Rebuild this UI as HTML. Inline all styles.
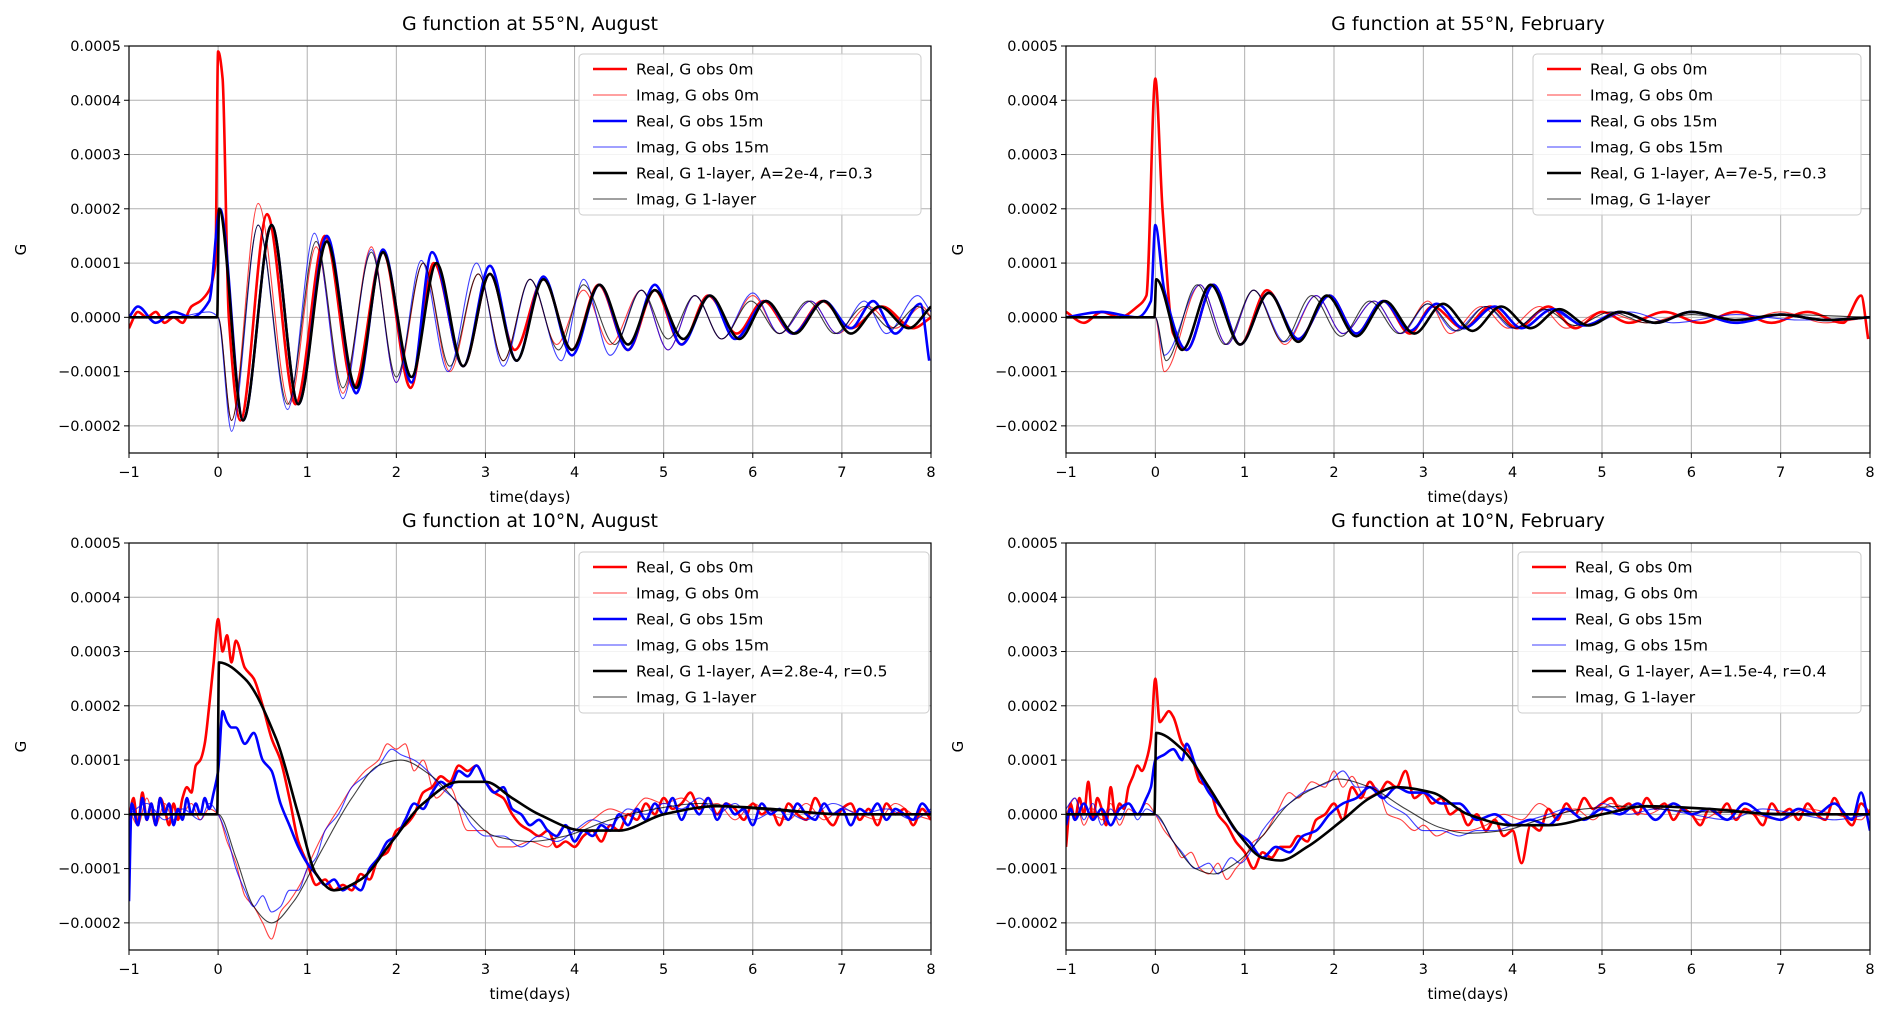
<!DOCTYPE html>
<html><head><meta charset="utf-8"><style>
html,body{margin:0;padding:0;background:#fff;}
svg{display:block;font-family:"DejaVu Sans","Liberation Sans",sans-serif;}
</style></head><body>
<svg id="fig" width="1892" height="1023" viewBox="0 0 1892 1023" xmlns="http://www.w3.org/2000/svg"></svg>
<script>
// ---- data (values in units of 1e-5) ----
const xTicks = [-1,0,1,2,3,4,5,6,7,8];
const yTicks = [-0.0002,-0.0001,0,0.0001,0.0002,0.0003,0.0004,0.0005];
const yTickLabels = ["\u22120.0002","\u22120.0001","0.0000","0.0001","0.0002","0.0003","0.0004","0.0005"];
const seriesLabels = ["Real, G obs 0m","Imag, G obs 0m","Real, G obs 15m","Imag, G obs 15m","Real, G 1-layer","Imag, G 1-layer"];
const panelTitles = ["G function at 55\u00b0N, August","G function at 55\u00b0N, February","G function at 10\u00b0N, August","G function at 10\u00b0N, February"];
const modelParams = ["A=2e-4, r=0.3","A=7e-5, r=0.3","A=2.8e-4, r=0.5","A=1.5e-4, r=0.4"];

// Top-left: 55N August
const tlRe0T=[-1,-0.9,-0.8,-0.7,-0.6,-0.5,-0.4,-0.3,-0.2,-0.1,-0.03,0,0.05,0.12,0.25,0.55,0.87,1.2,1.52,1.85,2.16,2.42,2.75,3.05,3.33,3.65,3.97,4.27,4.6,4.9,5.2,5.5,5.82,6.12,6.45,6.78,7.1,7.45,7.8,8];
const tlRe0V=[-2,1,0,1,-1,0,-1,2,3,5,10,49,44,0,-19,19,-16,15,-13,12,-13,10,-9,8,-6,7,-6,6,-6,5,-5,4,-3,3,-3,3,-2,2,-2,0];
const tlIm0T=[-1,-0.5,0,0.15,0.45,0.8,1.1,1.4,1.72,2.0,2.3,2.6,2.92,3.2,3.5,3.8,4.1,4.4,4.75,5.05,5.35,5.65,6.0,6.3,6.65,6.95,7.3,7.6,7.9,8];
const tlIm0V=[0,0,0,-19,21,-16,13,-14,13,-12,10,-10,8,-8,7,-5,5,-5,5,-6,4,-4,4,-3,3,-3,2,-2,2,0];
const tlRe15T=[-1,-0.9,-0.7,-0.5,-0.3,-0.1,0.02,0.28,0.6,0.9,1.22,1.55,1.85,2.17,2.4,2.75,3.05,3.35,3.65,3.97,4.28,4.6,4.9,5.2,5.52,5.8,6.15,6.45,6.8,7.1,7.35,7.6,7.88,7.98];
const tlRe15V=[0,2,-1,1,0,3,20,-19,17,-16,15,-14,12.5,-12,12,-9,9.5,-8,7.5,-7,6,-6,6,-5,4,-4,3,-3,3,-2,3,-3,2.5,-8];
const tlIm15T=[-1,-0.5,-0.1,0,0.15,0.45,0.78,1.08,1.4,1.72,2.0,2.28,2.58,2.9,3.2,3.5,3.85,4.1,4.4,4.75,5.05,5.35,5.65,6.0,6.3,6.65,6.95,7.25,7.5,7.85,8];
const tlIm15V=[0,0,1,0,-21,17,-17,15.5,-15,12.5,-12,10.5,-10,10,-9,7,-8,7,-7,5,-6,4,-4,4.5,-3,3,-3,3,-3,4,1];
const tlReMT=[-1,-0.01,0.01,0.28,0.6,0.9,1.22,1.55,1.85,2.17,2.45,2.75,3.05,3.35,3.65,3.97,4.28,4.6,4.9,5.22,5.52,5.85,6.15,6.47,6.8,7.1,7.42,7.75,8];
const tlReMV=[0,0,20,-19,17,-16,14,-13,12,-11,10,-9,8,-8,7,-6,6,-5,5,-4,4,-4,3,-3,3,-3,2,-2,2];
const tlImMT=[-1,0,0.15,0.45,0.78,1.1,1.4,1.72,2.0,2.3,2.6,2.92,3.2,3.5,3.82,4.1,4.45,4.75,5.05,5.35,5.65,5.98,6.3,6.62,6.92,7.25,7.55,7.85,8];
const tlImMV=[0,0,-19,17,-16,14,-13,12,-11,10,-9,8,-8,7,-6,6,-5,5,-4,4,-4,3,-3,3,-3,2,-2,2,0];

// Top-right: 55N February
const trRe0T=[-1,-0.8,-0.6,-0.4,-0.2,-0.1,0,0.08,0.2,0.35,0.65,0.95,1.25,1.6,1.95,2.25,2.55,2.85,3.1,3.45,3.75,4.05,4.4,4.7,5.0,5.3,5.7,6.1,6.5,6.9,7.3,7.7,7.9,7.98];
const trRe0V=[1,-1,1,0,2,4,44,20,-3,-6,6,-5,5,-4,4,-3,3,-3,2,-2,2,-2,2,-2,1,-1,1,-1,1,-1,1,-1,4,-4];
const trIm0T=[-1,-0.5,0,0.1,0.5,0.8,1.1,1.45,1.8,2.1,2.45,2.75,3.05,3.3,3.65,3.95,4.3,4.6,5.0,5.5,6.0,6.5,7.0,7.5,8];
const trIm0V=[0,0,0,-10,6,-5,5,-5,4,-3,3,-3,3,-3,2,-2,2,-2,1,-1,1,-1,1,-1,0];
const trRe15T=[-1,-0.6,-0.2,-0.05,0,0.1,0.35,0.65,0.95,1.27,1.6,1.95,2.25,2.55,2.85,3.15,3.45,3.8,4.1,4.45,4.8,5.2,5.6,6.0,6.5,7.0,7.5,8];
const trRe15V=[0,1,0,3,17,5,-6,6,-5,4.5,-4,4,-3,3,-2.5,2.5,-2,2,-2,1.5,-1.5,1,-1,1,-1,0.5,-0.5,0];
const trIm15T=[-1,-0.5,0,0.1,0.5,0.8,1.1,1.45,1.8,2.1,2.45,2.75,3.05,3.35,3.7,4.0,4.4,4.8,5.3,5.8,6.5,7.2,8];
const trIm15V=[0,0,0,-7,6,-5,5,-4.5,4,-3,3,-3,2.5,-2.5,2,-2,1.5,-1.5,1,-1,0.5,-0.5,0];
const trReMT=[-1,-0.01,0.01,0.3,0.62,0.95,1.27,1.6,1.92,2.25,2.57,2.9,3.22,3.55,3.87,4.2,4.52,4.85,5.2,5.6,6.0,6.5,7.0,7.5,8];
const trReMV=[0,0,7,-6,6,-5,4.5,-4.5,4,-3.5,3,-3,2.5,-2.5,2,-2,1.5,-1.5,1,-1,1,-0.5,0.5,-0.5,0];
const trImMT=[-1,0,0.12,0.47,0.78,1.1,1.43,1.75,2.08,2.4,2.73,3.05,3.38,3.7,4.03,4.35,4.7,5.1,5.5,6.0,6.5,7.0,8];
const trImMV=[0,0,-8,6,-5,5,-4.5,4,-3.5,3,-3,2.5,-2.5,2,-2,1.5,-1.5,1,-1,0.5,-0.5,0.5,0];

// Bottom-left: 10N August
const blRe0T=[-1,-0.95,-0.9,-0.85,-0.8,-0.75,-0.7,-0.65,-0.6,-0.55,-0.5,-0.45,-0.4,-0.35,-0.3,-0.25,-0.2,-0.15,-0.1,-0.05,0,0.05,0.1,0.15,0.2,0.3,0.4,0.5,0.6,0.7,0.8,0.9,1.0,1.1,1.2,1.3,1.4,1.5,1.6,1.7,1.8,1.9,2.0,2.1,2.2,2.3,2.4,2.5,2.6,2.7,2.8,2.9,3.0,3.1,3.2,3.3,3.4,3.5,3.6,3.7,3.8,3.9,4.0,4.1,4.2,4.3,4.4,4.5,4.6,4.7,4.8,4.9,5.0,5.1,5.2,5.3,5.4,5.5,5.6,5.7,5.8,5.9,6.0,6.1,6.2,6.3,6.4,6.5,6.6,6.7,6.8,6.9,7.0,7.1,7.2,7.3,7.4,7.5,7.6,7.7,7.8,7.9,8];
const blRe0V=[-1,3,-2,4,-1,2,-2,3,1,-2,2,-1,3,5,4,9,10,13,20,28,36,30,33,28,32,27,25,20,14,10,3,-5,-9,-13,-12,-14,-13,-14,-11,-12,-8,-7,-3,-2,0,4,5,7,6,9,8,9,6,4,3,0,-2,-3,-4,-3,-6,-5,-6,-4,-3,-5,-2,-3,0,-1,2,0,3,1,2,4,1,3,0,2,1,-1,2,0,1,-2,2,0,-1,3,0,-2,1,2,-1,1,-2,2,0,1,-2,1,-1];
const blIm0T=[-1,-0.9,-0.8,-0.7,-0.6,-0.5,-0.4,-0.3,-0.2,-0.1,0,0.1,0.2,0.3,0.4,0.5,0.6,0.7,0.8,0.95,1.05,1.2,1.35,1.5,1.65,1.8,1.9,2.0,2.1,2.2,2.3,2.45,2.6,2.8,3.0,3.15,3.3,3.5,3.7,3.9,4.0,4.2,4.4,4.6,4.8,5.0,5.2,5.4,5.6,5.8,6.0,6.2,6.4,6.6,6.8,7.0,7.2,7.4,7.6,7.8,8];
const blIm0V=[1,-2,3,-2,2,-1,0,2,-1,1,0,-5,-9,-15,-17,-20,-23,-18,-16,-12,-8,-3,1,5,8,10,13,12,13,8,10,3,5,-3,-3,-6,-6,-5,-6,-2,-3,-1,1,0,3,2,3,1,2,-1,2,0,-1,2,-1,1,0,-1,2,0,-1];
const blRe15T=[-1,-0.97,-0.9,-0.85,-0.8,-0.75,-0.7,-0.65,-0.6,-0.55,-0.5,-0.45,-0.4,-0.35,-0.3,-0.25,-0.2,-0.15,-0.1,-0.05,0,0.05,0.1,0.15,0.2,0.3,0.4,0.5,0.6,0.7,0.8,0.9,1.0,1.1,1.2,1.3,1.4,1.5,1.6,1.7,1.8,1.9,2.0,2.1,2.2,2.3,2.4,2.5,2.6,2.7,2.8,2.9,3.0,3.1,3.2,3.3,3.4,3.5,3.6,3.7,3.8,3.9,4.0,4.1,4.2,4.3,4.4,4.5,4.6,4.7,4.8,4.9,5.0,5.1,5.2,5.3,5.4,5.5,5.6,5.7,5.8,5.9,6.0,6.1,6.2,6.3,6.4,6.5,6.6,6.7,6.8,6.9,7.0,7.1,7.2,7.3,7.4,7.5,7.6,7.7,7.8,7.9,8];
const blRe15V=[-16,2,-2,3,-1,2,-2,3,0,2,-2,1,-1,3,0,2,0,3,1,4,8,19,17,16,16,13,15,10,8,2,-2,-6,-9,-11,-13,-12,-14,-13,-14,-10,-8,-5,-4,-1,2,1,4,6,5,8,7,9,6,4,5,1,0,-2,-1,-3,-4,-2,-5,-3,-4,-2,-3,0,-2,1,-1,2,0,3,-1,2,0,3,-1,2,0,1,-2,2,0,1,-1,2,0,-1,2,0,1,-2,1,0,2,-1,1,0,-1,2,0];
const blIm15T=[-1,-0.8,-0.6,-0.4,-0.2,-0.1,0,0.1,0.2,0.3,0.4,0.5,0.6,0.7,0.8,0.9,1.0,1.1,1.2,1.35,1.5,1.65,1.8,1.95,2.05,2.2,2.35,2.5,2.7,2.85,3.0,3.2,3.4,3.6,3.8,4.0,4.2,4.4,4.6,4.8,5.0,5.2,5.4,5.6,5.8,6.0,6.3,6.6,6.9,7.2,7.5,7.8,8];
const blIm15V=[0,2,-1,1,-1,2,0,-4,-10,-14,-17,-15,-18,-17,-14,-14,-10,-8,-3,0,5,7,9,12,11,10,8,5,2,-2,-4,-4,-6,-4,-5,-3,-1,-2,1,0,2,1,3,0,2,-1,1,-1,2,0,1,-1,1];
const blReMT=[-1,-0.01,0.01,0.3,0.65,0.9,1.1,1.3,1.6,1.95,2.3,2.7,3.0,3.3,3.6,4.1,4.5,5.0,5.6,6.2,7.0,8];
const blReMV=[0,0,28,25,14,0,-11,-14,-12,-5,2,6,6,3,0,-3,-3,0,1.5,1,0,0];
const blImMT=[-1,0,0.2,0.4,0.6,0.85,1.15,1.5,1.8,2.05,2.4,2.75,3.1,3.5,3.9,4.4,4.9,5.4,6.0,7.0,8];
const blImMV=[0,0,-8,-17,-20,-16,-7,3,9,10,7,1,-4,-5,-4,-1,1,2,1,0,0];

// Bottom-right: 10N February
const brRe0T=[-1,-0.95,-0.9,-0.85,-0.8,-0.75,-0.7,-0.65,-0.6,-0.55,-0.5,-0.45,-0.4,-0.35,-0.3,-0.25,-0.2,-0.15,-0.1,-0.05,0,0.05,0.1,0.15,0.2,0.3,0.4,0.5,0.6,0.7,0.8,0.9,1.0,1.1,1.2,1.3,1.4,1.5,1.6,1.7,1.8,1.9,2.0,2.1,2.2,2.3,2.4,2.5,2.6,2.7,2.8,2.9,3.0,3.1,3.2,3.3,3.4,3.5,3.6,3.7,3.8,3.9,4.0,4.1,4.2,4.3,4.4,4.5,4.6,4.7,4.8,4.9,5.0,5.1,5.2,5.3,5.4,5.5,5.6,5.7,5.8,5.9,6.0,6.1,6.2,6.3,6.4,6.5,6.6,6.7,6.8,6.9,7.0,7.1,7.2,7.3,7.4,7.5,7.6,7.7,7.8,7.9,8];
const brRe0V=[-6,2,-1,3,0,6,-1,3,1,-2,5,0,2,1,5,7,9,8,10,14,25,17,18,19,18,13,11,6,5,0,-2,-5,-7,-10,-7,-8,-6,-6,-4,-5,-1,0,2,-1,5,3,6,4,6,5,8,3,4,2,3,0,1,-2,0,-3,-1,-4,-3,-9,-2,-3,1,-1,2,0,3,1,2,3,1,2,0,3,1,2,-1,1,0,-2,1,0,2,-1,1,0,-2,2,0,1,-1,2,0,-1,3,0,-2,2,0];
const brIm0T=[-1,-0.9,-0.8,-0.7,-0.6,-0.5,-0.4,-0.3,-0.2,-0.1,0,0.1,0.2,0.3,0.4,0.5,0.6,0.7,0.8,0.9,1.0,1.1,1.2,1.35,1.5,1.6,1.75,1.9,2.0,2.1,2.2,2.35,2.5,2.6,2.75,2.9,3.0,3.15,3.3,3.5,3.7,3.9,4.1,4.3,4.5,4.7,4.9,5.1,5.3,5.5,5.8,6.1,6.4,6.7,7.0,7.3,7.6,7.9,8];
const brIm0V=[0,3,-2,1,-1,2,-2,1,0,2,0,-3,-5,-8,-7,-10,-11,-9,-12,-10,-8,-5,-4,0,4,3,6,5,8,5,7,3,4,0,-1,-3,-2,-4,-3,-3,-2,0,-1,2,0,1,-1,2,1,0,2,-1,1,0,-1,1,0,-1,1];
const brRe15T=[-1,-0.95,-0.9,-0.8,-0.7,-0.6,-0.5,-0.4,-0.3,-0.2,-0.1,-0.05,0,0.1,0.2,0.3,0.35,0.45,0.6,0.75,0.9,1.05,1.2,1.35,1.5,1.65,1.8,1.95,2.1,2.25,2.4,2.55,2.7,2.85,3.0,3.2,3.4,3.6,3.8,4.0,4.2,4.4,4.6,4.8,5.0,5.2,5.4,5.6,5.8,6.0,6.2,6.4,6.6,6.8,7.0,7.2,7.4,7.6,7.8,7.9,8];
const brRe15V=[-2,1,-1,2,-1,1,-2,1,2,0,3,5,10,11,12,10,13,9,4,1,-3,-5,-8,-6,-7,-4,-3,0,2,3,5,3,5,4,4,2,2,-1,0,-2,-1,-2,1,-1,1,0,2,-1,2,0,1,-1,2,0,-1,1,0,2,-1,4,-3];
const brIm15T=[-1,-0.9,-0.8,-0.7,-0.6,-0.5,-0.4,-0.3,-0.2,-0.1,0,0.1,0.2,0.3,0.45,0.6,0.7,0.85,0.95,1.1,1.2,1.35,1.5,1.65,1.8,1.95,2.1,2.25,2.45,2.6,2.8,3.0,3.2,3.4,3.6,3.8,4.0,4.2,4.4,4.6,4.8,5.0,5.3,5.6,6.0,6.4,6.8,7.2,7.6,8];
const brIm15V=[1,3,-1,2,-2,1,-1,2,-1,1,0,-2,-5,-7,-10,-9,-11,-8,-9,-6,-3,0,2,4,5,6,8,5,5,2,0,-3,-3,-4,-3,-3,-2,-1,0,1,-1,2,0,1,0,-1,1,0,-1,0];
const brReMT=[-1,-0.01,0.01,0.3,0.6,0.95,1.2,1.4,1.7,2.1,2.4,2.7,3.1,3.5,4.0,4.4,5.0,5.5,6.2,7.0,8];
const brReMV=[0,0,15,12,5,-4,-8,-8.5,-6,-1,3,5,4,0,-2,-2,0,1.5,1,0,0];
const brImMT=[-1,0,0.2,0.45,0.65,0.9,1.2,1.5,1.8,2.05,2.4,2.8,3.2,3.5,3.9,4.3,4.8,5.3,6.0,8];
const brImMV=[0,0,-5,-10,-11,-9,-4,2,5,6.5,5,1,-2.5,-3.5,-3,-1,1,1.5,0.5,0];

// ---- rendering ----
const svg=document.getElementById('fig');
const NS='http://www.w3.org/2000/svg';
function mk(tag,attrs,parent){const e=document.createElementNS(NS,tag);for(const k in attrs)e.setAttribute(k,attrs[k]);(parent||svg).appendChild(e);return e;}

const panels=[
 {x0:129,x1:931,y0:46,y1:453,leg:{x:579,y:54,w:342},key:'tl',
  s:[[tlRe0T,tlRe0V],[tlIm0T,tlIm0V],[tlRe15T,tlRe15V],[tlIm15T,tlIm15V],[tlReMT,tlReMV],[tlImMT,tlImMV]]},
 {x0:1066,x1:1870,y0:46,y1:453,leg:{x:1533,y:54,w:328},key:'tr',
  s:[[trRe0T,trRe0V],[trIm0T,trIm0V],[trRe15T,trRe15V],[trIm15T,trIm15V],[trReMT,trReMV],[trImMT,trImMV]]},
 {x0:129,x1:931,y0:543,y1:950,leg:{x:579,y:552,w:350},key:'bl',
  s:[[blRe0T,blRe0V],[blIm0T,blIm0V],[blRe15T,blRe15V],[blIm15T,blIm15V],[blReMT,blReMV],[blImMT,blImMV]]},
 {x0:1066,x1:1870,y0:543,y1:950,leg:{x:1518,y:552,w:343},key:'br',
  s:[[brRe0T,brRe0V],[brIm0T,brIm0V],[brRe15T,brRe15V],[brIm15T,brIm15V],[brReMT,brReMV],[brImMT,brImMV]]}
];
const styles=[
 {c:'#ff0000',w:2.6,o:1},{c:'#ff0000',w:1.1,o:0.75},
 {c:'#0000ff',w:2.6,o:1},{c:'#0000ff',w:1.1,o:0.75},
 {c:'#000000',w:2.6,o:1},{c:'#000000',w:1.1,o:0.75}
];
const seriesNames=['real-obs-0m','imag-obs-0m','real-obs-15m','imag-obs-15m','real-1-layer','imag-1-layer'];

// monotone cubic path (no overshoot)
function path(pts){
 const n=pts.length;
 const d=[],m=[];
 for(let i=0;i<n-1;i++){d.push((pts[i+1][1]-pts[i][1])/(pts[i+1][0]-pts[i][0]));}
 for(let i=0;i<n;i++){
  if(i===0)m.push(d[0]);else if(i===n-1)m.push(d[n-2]);
  else if(d[i-1]*d[i]<=0)m.push(0);
  else m.push(2/(1/d[i-1]+1/d[i]));
 }
 let s='M'+pts[0][0].toFixed(1)+','+pts[0][1].toFixed(1);
 for(let i=0;i<n-1;i++){
  const h=pts[i+1][0]-pts[i][0];
  s+=' C'+(pts[i][0]+h/3).toFixed(1)+','+(pts[i][1]+m[i]*h/3).toFixed(1)+' '+(pts[i+1][0]-h/3).toFixed(1)+','+(pts[i+1][1]-m[i+1]*h/3).toFixed(1)+' '+pts[i+1][0].toFixed(1)+','+pts[i+1][1].toFixed(1);
 }
 return s;
}

panels.forEach((p,pi)=>{
 const g=mk('g',{});
 
 
 const xs=t=>p.x0+(t+1)/9*(p.x1-p.x0);
 const ys=v=>p.y1-(v+0.00025)/0.00075*(p.y1-p.y0);
 const cx=(p.x0+p.x1)/2;
 xTicks.forEach(t=>{const l=mk('line',{x1:xs(t),x2:xs(t),y1:p.y0,y2:p.y1,stroke:'#b0b0b0','stroke-width':1},g);
  });
 yTicks.forEach(v=>{const l=mk('line',{x1:p.x0,x2:p.x1,y1:ys(v),y2:ys(v),stroke:'#b0b0b0','stroke-width':1},g);
  });
 const clipId='clip'+pi;
 const cp=mk('clipPath',{id:clipId},g);mk('rect',{x:p.x0,y:p.y0,width:p.x1-p.x0,height:p.y1-p.y0},cp);
 const sg=mk('g',{'clip-path':'url(#'+clipId+')'},g);
 p.s.forEach((sv,si)=>{
  const pts=sv[0].map((t,i)=>[xs(t),ys(sv[1][i]*1e-5)]);
  const st=styles[si];
  const e=mk('path',{d:path(pts),fill:'none',stroke:st.c,'stroke-width':st.w,'stroke-opacity':st.o,'stroke-linejoin':'round'},sg);
  
  
 });
 const fr=mk('rect',{x:p.x0,y:p.y0,width:p.x1-p.x0,height:p.y1-p.y0,fill:'none',stroke:'#000','stroke-width':1.2},g);
 
 xTicks.forEach(t=>{
  mk('line',{x1:xs(t),x2:xs(t),y1:p.y1,y2:p.y1+5,stroke:'#000','stroke-width':1},g);
  const tx=mk('text',{x:xs(t),y:p.y1+24,'text-anchor':'middle','font-size':14.5,fill:'#000'},g);
  tx.textContent=t<0?'\u2212'+(-t):String(t);
  
 });
 yTicks.forEach((v,i)=>{
  mk('line',{x1:p.x0-5,x2:p.x0,y1:ys(v),y2:ys(v),stroke:'#000','stroke-width':1},g);
  const tx=mk('text',{x:p.x0-8,y:ys(v)+5,'text-anchor':'end','font-size':14.5,fill:'#000'},g);
  tx.textContent=yTickLabels[i];
  
 });
 const ti=mk('text',{x:cx,y:p.y0-16,'text-anchor':'middle','font-size':19,fill:'#000'},g);
 ti.textContent=panelTitles[pi];
 const xl=mk('text',{x:cx,y:p.y1+49,'text-anchor':'middle','font-size':15,fill:'#000'},g);
 xl.textContent='time(days)';
 const yl=mk('text',{x:0,y:0,'text-anchor':'middle','font-size':15,fill:'#000',transform:'translate('+(p.x0-103)+','+((p.y0+p.y1)/2)+') rotate(-90)'},g);
 yl.textContent='G';
 const L=p.leg;
 const lg=mk('g',{},g);
 
 mk('rect',{x:L.x,y:L.y,width:L.w,height:161,rx:4,fill:'#fff','fill-opacity':0.85,stroke:'#cccccc','stroke-width':1},lg);
 seriesLabels.forEach((lab,si)=>{
  const yy=L.y+15+si*26;
  const st=styles[si];
  const eg=mk('g',{},lg);
  
  
  mk('line',{x1:L.x+14,x2:L.x+48,y1:yy,y2:yy,stroke:st.c,'stroke-width':st.w,'stroke-opacity':st.o},eg);
  const tx=mk('text',{x:L.x+57,y:yy+5.5,'font-size':15.5,fill:'#000'},eg);
  tx.textContent=si===4?lab+', '+modelParams[pi]:lab;
 });
});
</script>
</body></html>
